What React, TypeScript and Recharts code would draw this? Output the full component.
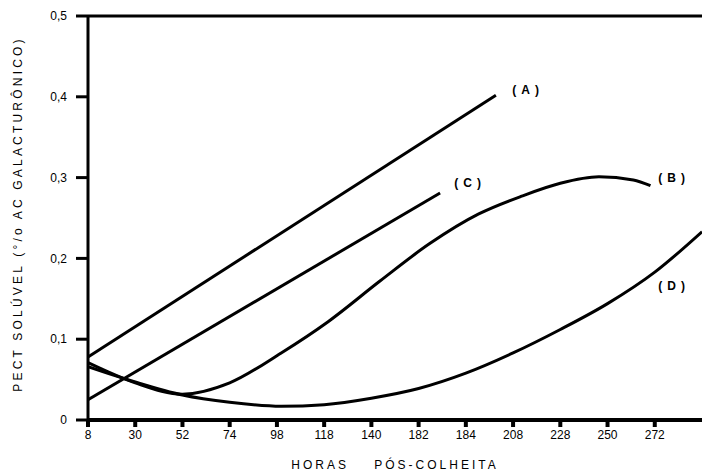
import { LineChart, Line, XAxis, YAxis, ReferenceLine, ReferenceDot } from "recharts";

// horas pós-colheita (ticks spaced evenly every 22 h), printed labels as in the figure
const xTicks = [8, 30, 52, 74, 96, 118, 140, 162, 184, 206, 228, 250, 272];
const xTickLabels = ["8", "30", "52", "74", "98", "118", "140", "182", "184", "208", "228", "250", "272"];
const yTicks = [0, 0.1, 0.2, 0.3, 0.4, 0.5];

const seriesA = [
  { h: 8, v: 0.078 },
  { h: 198, v: 0.402 },
];
const seriesC = [
  { h: 8, v: 0.025 },
  { h: 172, v: 0.281 },
];
const seriesB = [
  { h: 8, v: 0.071 },
  { h: 30, v: 0.046 },
  { h: 52, v: 0.032 },
  { h: 74, v: 0.046 },
  { h: 98, v: 0.083 },
  { h: 120, v: 0.122 },
  { h: 144, v: 0.172 },
  { h: 167, v: 0.218 },
  { h: 190, v: 0.255 },
  { h: 210, v: 0.277 },
  { h: 228, v: 0.293 },
  { h: 246, v: 0.301 },
  { h: 262, v: 0.297 },
  { h: 270, v: 0.29 },
];
const seriesD = [
  { h: 8, v: 0.066 },
  { h: 30, v: 0.047 },
  { h: 52, v: 0.031 },
  { h: 74, v: 0.022 },
  { h: 98, v: 0.017 },
  { h: 118, v: 0.019 },
  { h: 140, v: 0.027 },
  { h: 162, v: 0.039 },
  { h: 184, v: 0.058 },
  { h: 206, v: 0.083 },
  { h: 228, v: 0.112 },
  { h: 250, v: 0.144 },
  { h: 272, v: 0.183 },
  { h: 294, v: 0.233 },
];

const font = "'Liberation Sans', Arial, sans-serif";

const curveLabel = (text: string) => (props: any) => {
  const { viewBox } = props;
  return (
    <text
      x={viewBox.x}
      y={viewBox.y}
      textAnchor="middle"
      dominantBaseline="central"
      fontFamily={font}
      fontWeight="bold"
      fontSize={12}
      letterSpacing={5}
      fill="#000"
    >
      {text}
    </text>
  );
};

export default function App() {
  return (
    <div style={{ position: "absolute", left: 0, top: 0, background: "#fff" }}>
      <LineChart width={702} height={471} margin={{ top: 16, right: 0, bottom: 0, left: 0 }}>
        <XAxis
          type="number"
          dataKey="h"
          domain={[8, 294]}
          ticks={xTicks}
          tickFormatter={(t: number) => xTickLabels[xTicks.indexOf(t)]}
          allowDataOverflow
          height={51}
          stroke="#000"
          strokeWidth={4}
          tickSize={7}
          tickMargin={3}
          tick={{ fill: "#000", fontSize: 12, fontFamily: font }}
          label={{
            value: "HORAS\u00a0\u00a0\u00a0\u00a0PÓS-COLHEITA",
            position: "insideBottom",
            offset: 2,
            fill: "#000",
            fontSize: 12,
            fontFamily: font,
            letterSpacing: 3,
          }}
        />
        <YAxis
          type="number"
          domain={[0, 0.5]}
          ticks={yTicks}
          tickFormatter={(t: number) => (t === 0 ? "0" : t.toFixed(1).replace(".", ","))}
          width={88}
          stroke="#000"
          strokeWidth={3}
          tickSize={12}
          tickMargin={9}
          tick={{ fill: "#000", fontSize: 12, fontFamily: font }}
          label={{
            value: "PECT SOLÚVEL (°/o AC GALACTURÔNICO)",
            angle: -90,
            position: "center",
            dx: -26,
            dy: -4,
            fill: "#000",
            fontSize: 12,
            fontFamily: font,
            letterSpacing: 3.2,
          }}
        />
        <ReferenceLine y={0.5} stroke="#000" strokeWidth={3} />
        <Line data={seriesA} dataKey="v" type="linear" stroke="#000" strokeWidth={3} dot={false} isAnimationActive={false} />
        <Line data={seriesC} dataKey="v" type="linear" stroke="#000" strokeWidth={3} dot={false} isAnimationActive={false} />
        <Line data={seriesB} dataKey="v" type="monotone" stroke="#000" strokeWidth={3} dot={false} isAnimationActive={false} />
        <Line data={seriesD} dataKey="v" type="monotone" stroke="#000" strokeWidth={3} dot={false} isAnimationActive={false} />
        <ReferenceDot x={213} y={0.408} r={0} stroke="none" label={curveLabel("(A)")} />
        <ReferenceDot x={281} y={0.3} r={0} stroke="none" label={curveLabel("(B)")} />
        <ReferenceDot x={186} y={0.293} r={0} stroke="none" label={curveLabel("(C)")} />
        <ReferenceDot x={281} y={0.166} r={0} stroke="none" label={curveLabel("(D)")} />
      </LineChart>
    </div>
  );
}
